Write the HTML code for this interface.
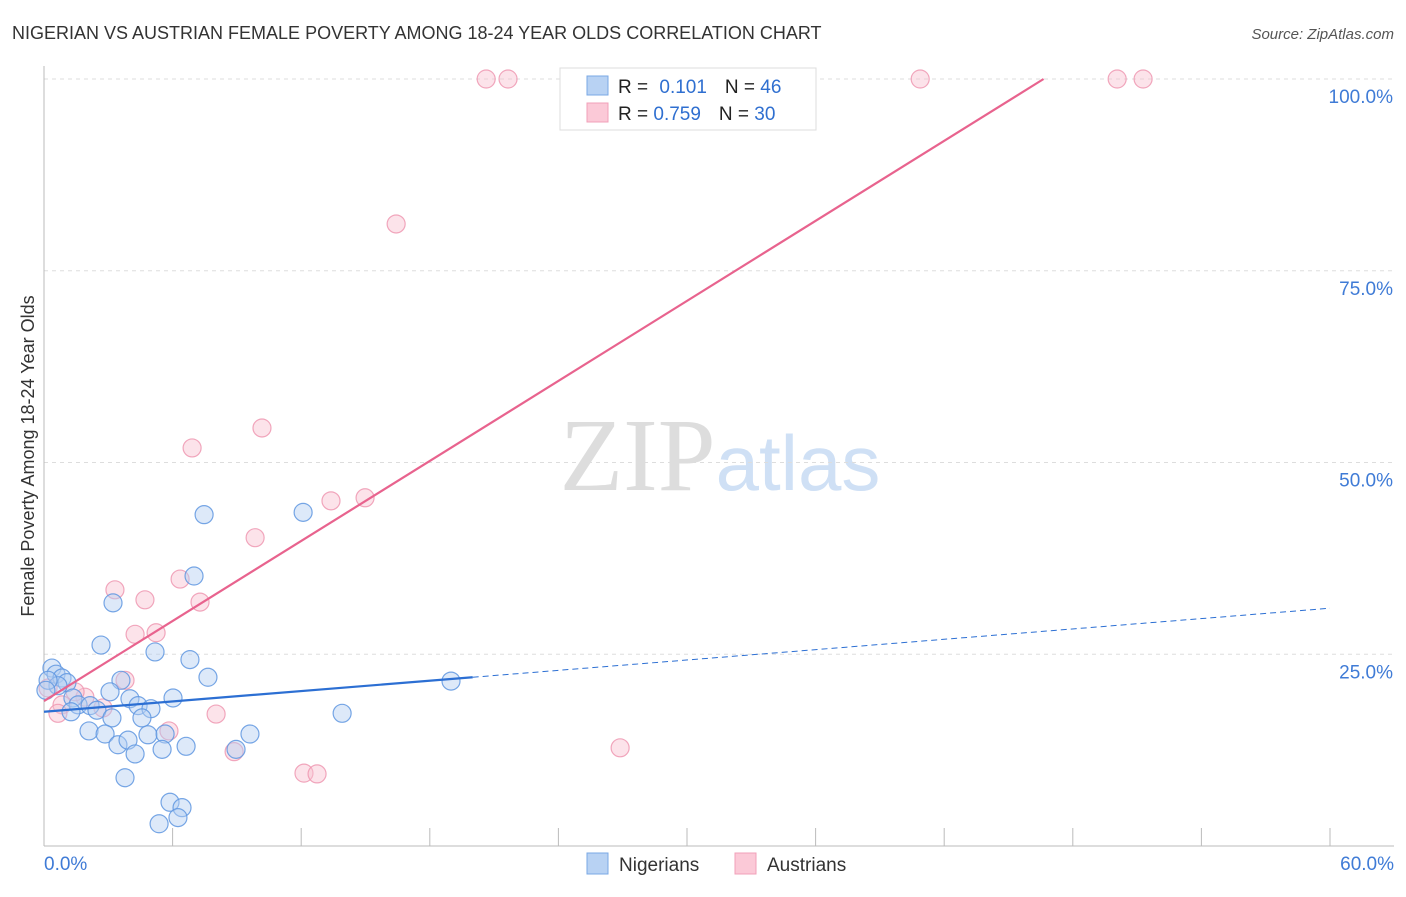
<!DOCTYPE html>
<html><head><meta charset="utf-8"><style>
body{margin:0;background:#fff;font-family:"Liberation Sans",sans-serif;}
</style></head><body>
<svg id="chart" width="1406" height="892" xmlns="http://www.w3.org/2000/svg" font-family="Liberation Sans, sans-serif">
<text x="12" y="39" font-size="18" fill="#333">NIGERIAN VS AUSTRIAN FEMALE POVERTY AMONG 18-24 YEAR OLDS CORRELATION CHART</text>
<text x="1394" y="39" font-size="15" fill="#555" text-anchor="end" font-style="italic">Source: ZipAtlas.com</text>
<text x="720" y="490" font-size="104" text-anchor="middle"><tspan fill="#ddd" font-family="Liberation Serif, serif">ZIP</tspan><tspan fill="#cfe0f5" font-size="78">atlas</tspan></text>
<text transform="translate(34,456) rotate(-90)" font-size="18" fill="#333" text-anchor="middle">Female Poverty Among 18-24 Year Olds</text>
<g id="grid"></g><g id="axes"></g><g id="marks"></g>
<g>
<rect x="560" y="68" width="256" height="62" fill="#fff" stroke="#ddd"/>
<rect x="587" y="76" width="21" height="19" fill="#b8d2f3" stroke="#7aa8e4"/>
<rect x="587" y="103" width="21" height="19" fill="#fbc9d7" stroke="#f1a0b8"/>
<text x="618" y="93" font-size="19" fill="#222">R = <tspan fill="#2f6fd0" dx="6">0.101</tspan><tspan fill="#222" dx="18">N = </tspan><tspan fill="#2f6fd0">46</tspan></text>
<text x="618" y="120" font-size="19" fill="#222">R = <tspan fill="#2f6fd0">0.759</tspan><tspan fill="#222" dx="18">N = </tspan><tspan fill="#2f6fd0">30</tspan></text>
</g>
<g>
<rect x="587" y="853" width="21" height="21" fill="#b8d2f3" stroke="#7aa8e4"/>
<text x="619" y="871" font-size="19" fill="#333">Nigerians</text>
<rect x="735" y="853" width="21" height="21" fill="#fbc9d7" stroke="#f1a0b8"/>
<text x="767" y="871" font-size="19" fill="#333">Austrians</text>
</g>
</svg>
<script>
const xTicks=[0,6,12,18,24,30,36,42,48,54,60];
const yTicks=[25,50,75,100];
const yTickLabels=["25.0%","50.0%","75.0%","100.0%"];
const nigX=[0.37,0.56,0.84,1.07,0.65,2.66,3.22,7.47,12.09,7.0,5.18,6.81,7.65,3.59,3.08,4.01,6.02,1.35,1.59,2.15,2.47,4.39,4.99,4.57,3.17,1.26,2.10,2.85,3.45,3.92,4.85,5.65,5.51,4.25,6.63,8.96,9.61,13.91,18.99,3.78,5.88,6.44,6.25,5.37,0.19,0.09];
const nigY=[23.2,22.4,21.9,21.3,20.9,26.2,31.7,43.2,43.5,35.2,25.3,24.3,22.0,21.6,20.1,19.2,19.3,19.3,18.4,18.3,17.7,18.3,17.9,16.7,16.7,17.5,15.0,14.6,13.2,13.8,14.5,14.6,12.6,12.0,13.0,12.6,14.6,17.3,21.5,8.9,5.7,5.0,3.7,2.9,21.6,20.3];
const ausX=[20.63,21.65,40.88,50.07,51.28,16.43,10.17,6.91,14.98,13.39,9.85,3.31,4.71,6.35,7.28,4.25,5.23,3.78,1.91,0.84,2.75,8.03,5.83,8.87,12.13,12.74,26.88,0.65,0.19,1.45];
const ausY=[100,100,100,100,100,81.1,54.5,51.9,45.4,45.0,40.2,33.4,32.1,34.8,31.8,27.6,27.8,21.6,19.4,18.4,18.0,17.2,15.0,12.3,9.5,9.4,12.8,17.3,20.6,20.1];
const nigTrend=[17.5,0.225];
const ausTrend=[18.9,1.739];
const NS="http://www.w3.org/2000/svg";
const X=v=>44+v*(1286/60), Y=v=>846-v*7.67;
function mk(p,tag,a){const e=document.createElementNS(NS,tag);for(const k in a)e.setAttribute(k,a[k]);p.appendChild(e);return e;}
const grid=document.getElementById('grid'),axes=document.getElementById('axes'),marks=document.getElementById('marks');
yTicks.forEach((t,i)=>{
 const l=mk(grid,'line',{x1:44,x2:1394,y1:Y(t),y2:Y(t),stroke:'#ddd','stroke-dasharray':'4,4'});
 
 
 const tx=mk(axes,'text',{x:1393,y:Y(t)+24,'font-size':19,fill:'#3f7bd6','text-anchor':'end'});
 tx.textContent=yTickLabels[i];
 
 
});
let a=mk(axes,'line',{x1:44,x2:44,y1:66,y2:846,stroke:'#bbb'});


a=mk(axes,'line',{x1:44,x2:1394,y1:846,y2:846,stroke:'#bbb'});


xTicks.forEach(t=>{const l=mk(axes,'line',{x1:X(t),x2:X(t),y1:828,y2:846,stroke:'#bbb'});
 
 });
[[0,'0.0%','start',44],[60,'60.0%','end',1394]].forEach(d=>{const t=mk(axes,'text',{x:d[3],y:870,'font-size':19,fill:'#3f7bd6','text-anchor':d[2]});t.textContent=d[1];
 
 });
function dots(xs,ys,fill,stroke,name){xs.forEach((x,i)=>{const c=mk(marks,'circle',{cx:X(x),cy:Y(ys[i]),r:9,fill:fill,'fill-opacity':0.45,stroke:stroke,'stroke-opacity':0.85,'stroke-width':1.2});
 
 });}
dots(ausX,ausY,'#f9c0d0','#ee98b2','austrian-point');
dots(nigX,nigY,'#b3cff2','#5f97e0','nigerian-point');
let ln=mk(marks,'line',{x1:X(0),y1:Y(ausTrend[0]),x2:X((100-ausTrend[0])/ausTrend[1]),y2:Y(100),stroke:'#e8638e','stroke-width':2.2});


ln=mk(marks,'line',{x1:X(0),y1:Y(nigTrend[0]),x2:X(20),y2:Y(nigTrend[0]+20*nigTrend[1]),stroke:'#2c6fd3','stroke-width':2.2});


ln=mk(marks,'line',{x1:X(20),y1:Y(nigTrend[0]+20*nigTrend[1]),x2:X(60),y2:Y(nigTrend[0]+60*nigTrend[1]),stroke:'#2c6fd3','stroke-width':1,'stroke-dasharray':'6,4'});


</script>
</body></html>
